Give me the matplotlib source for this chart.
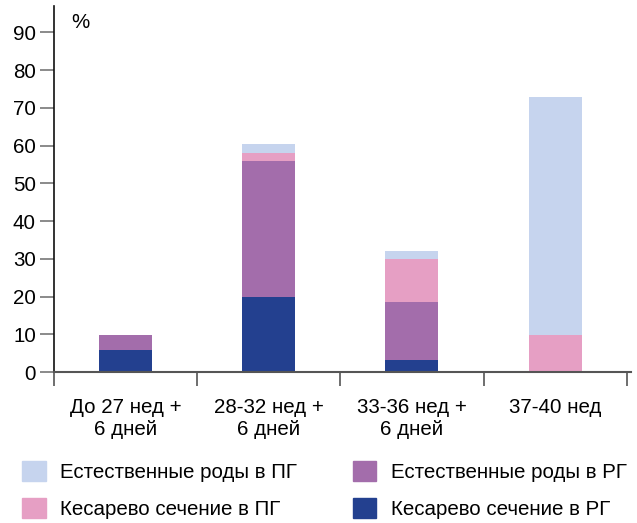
import matplotlib
matplotlib.use("Agg")
import matplotlib.pyplot as plt
from matplotlib.patches import Patch
from matplotlib.ticker import FixedLocator, NullFormatter
import numpy as np

plt.rcParams['font.family'] = ['Liberation Sans', 'DejaVu Sans']

# groups by gestational age
groups = ["До 27 нед +\n6 дней", "28-32 нед +\n6 дней", "33-36 нед +\n6 дней", "37-40 нед"]

# stacked shares, %, bottom to top
cs_rg = [5.8, 19.9, 3.2, 0.0]      # Кесарево сечение в РГ
nat_rg = [4.0, 35.9, 15.3, 0.0]    # Естественные роды в РГ
cs_pg = [0.0, 2.2, 11.4, 9.8]      # Кесарево сечение в ПГ
nat_pg = [0.0, 2.3, 2.1, 63.0]     # Естественные роды в ПГ

names = ["Кесарево сечение в РГ", "Естественные роды в РГ",
         "Кесарево сечение в ПГ", "Естественные роды в ПГ"]
colors = ["#23408f", "#a36dab", "#e69fc4", "#c6d4ee"]

fs = 14.8

fig = plt.figure(figsize=(6.37, 5.23), dpi=100)
ax = fig.add_axes([54/637, 151/523, 577/637, 366/523])

x = np.arange(len(groups)) + 0.5
bottom = np.zeros(len(groups))
for vals, c in zip([cs_rg, nat_rg, cs_pg, nat_pg], colors):
    ax.bar(x, vals, width=0.37, bottom=bottom, color=c, linewidth=0)
    bottom += np.array(vals)

ax.set_xlim(0, 4.03)
ax.set_ylim(0, 97)
ax.set_yticks(range(0, 91, 10))
ax.tick_params(axis='y', direction='out', length=10, width=1.2, color='#777777',
               labelsize=fs, pad=3)

ax.set_xticks(x)
ax.set_xticklabels(groups, fontsize=fs, linespacing=1.15)
ax.tick_params(axis='x', which='major', length=0, pad=19)
ax.xaxis.set_minor_locator(FixedLocator([0, 1, 2, 3, 4]))
ax.xaxis.set_minor_formatter(NullFormatter())
ax.tick_params(axis='x', which='minor', direction='out', length=10, width=1.2, color='#555555')

for s in ['top', 'right']:
    ax.spines[s].set_visible(False)
ax.spines['left'].set_color('#111111')
ax.spines['left'].set_linewidth(1.2)
ax.spines['bottom'].set_color('#555555')
ax.spines['bottom'].set_linewidth(1.5)

ax.text(80/637, 1 - 22/523, "%", transform=fig.transFigure, fontsize=fs,
        ha='center', va='center')

# legend: left column ПГ, right column РГ
handles = [Patch(color=colors[3]), Patch(color=colors[2]),
           Patch(color=colors[1]), Patch(color=colors[0])]
labels = [names[3], names[2], names[1], names[0]]
fig.legend(handles, labels, ncol=2, loc='upper left',
           bbox_to_anchor=(22/637, 1 - 461/523), frameon=False,
           fontsize=fs, handlelength=1.15, handleheight=1.15,
           handletextpad=0.7, columnspacing=2.7, labelspacing=0.75,
           borderpad=0, borderaxespad=0)

fig.savefig("out.png", dpi=100)
